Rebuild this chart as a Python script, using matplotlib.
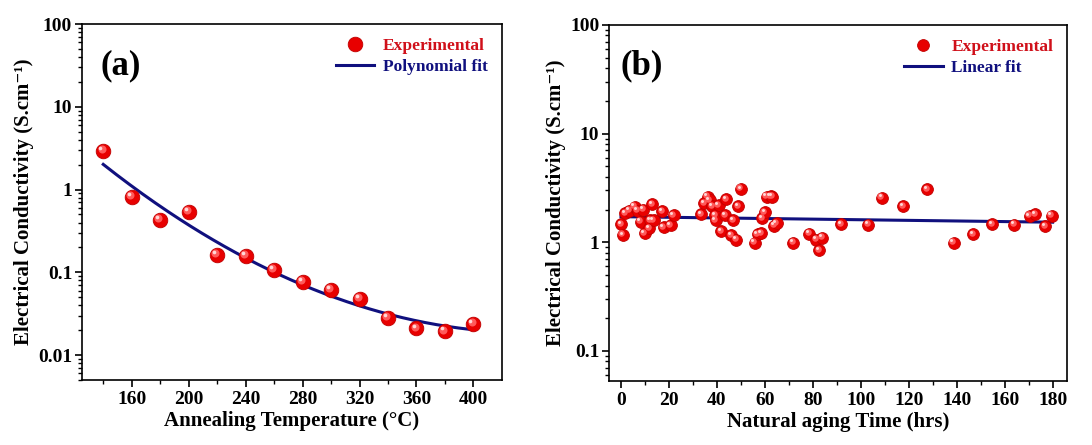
import numpy as np
import matplotlib
matplotlib.use("Agg")
import matplotlib.pyplot as plt
from matplotlib.transforms import ScaledTranslation
from matplotlib.ticker import MultipleLocator, LogLocator, NullFormatter, FixedLocator

plt.rcParams['font.family'] = ['Liberation Serif', 'DejaVu Serif']
plt.rcParams['font.weight'] = 'bold'

# panel (a): conductivity vs annealing temperature
temp = [140, 160, 180, 200, 220, 240, 260, 280, 300, 320, 340, 360, 380, 400]
cond_a = [2.96, 0.81, 0.43, 0.54, 0.164, 0.159, 0.108, 0.076, 0.062, 0.048,
          0.028, 0.021, 0.0194, 0.0237]

# panel (b): conductivity vs natural aging time
aging = [0, 0.8, 1.8, 3.5, 5.7, 7.0, 8.2, 9.2, 9.9, 11.7, 12.3, 13.1, 13.6,
         17.1, 17.8, 20.7, 22.0,
         33.4, 34.7, 36.1, 37.0, 38.1, 39.2, 39.5, 40.8, 41.9, 43.5, 43.9,
         45.9, 46.9, 48.0, 48.9, 50.0,
         55.7, 57.0, 58.4, 59.0, 60.0, 60.8, 62.4, 63.1, 63.8, 64.9,
         71.9, 78.6, 81.4, 82.7, 83.8, 91.9, 103.0, 108.8, 117.8, 127.7,
         138.8, 146.9, 154.7, 164.1, 170.5, 172.8, 176.9, 179.6]
cond_b = [1.47, 1.17, 1.85, 1.95, 2.12, 1.95, 1.55, 2.0, 1.21, 1.34, 1.6, 2.25, 1.60,
          1.94, 1.37, 1.44, 1.78,
          1.82, 2.3, 2.62, 2.45, 2.15, 1.78, 1.6, 2.18, 1.27, 1.78, 2.48,
          1.16, 1.6, 1.06, 2.15, 3.1,
          0.99, 1.18, 1.21, 1.66, 1.88, 2.62, 2.64, 2.62, 1.42, 1.5,
          0.99, 1.2, 1.06, 0.85, 1.1, 1.47, 1.45, 2.57, 2.15, 3.09,
          0.99, 1.19, 1.47, 1.45, 1.75, 1.82, 1.4, 1.76]
# linear fit line
fit_b_t = [0, 180]
fit_b_v = [1.72, 1.53]

red = '#e80000'
navy = '#10107e'

fig = plt.figure(figsize=(10.92, 4.45), dpi=100)
ax1 = fig.add_axes([0.075, 0.146, 0.3846, 0.80])
ax2 = fig.add_axes([0.5577, 0.144, 0.4194, 0.80])


def balls(ax, x, y, ms, label):
    h, = ax.plot(x, y, 'o', color=red, ms=ms, mec='#c00000', mew=0.6,
                 label=label, zorder=3, ls='none')
    off1 = ax.transData + ScaledTranslation(-ms * 0.12 / 72, ms * 0.12 / 72, fig.dpi_scale_trans)
    off2 = ax.transData + ScaledTranslation(-ms * 0.2 / 72, ms * 0.2 / 72, fig.dpi_scale_trans)
    ax.plot(x, y, 'o', color='#ff5a5a', ms=ms * 0.55, mew=0, transform=off1, zorder=4, ls='none')
    ax.plot(x, y, 'o', color='#ffd8d8', ms=ms * 0.25, mew=0, transform=off2, zorder=5, ls='none')
    return h


ylab = 'Electrical Conductivity (S.cm\u207b\u00b9)'

# panel a
coef = np.polyfit(temp, np.log10(cond_a), 2)
xs = np.linspace(temp[0], temp[-1], 200)
ax1.plot(xs, 10 ** np.polyval(coef, xs), color=navy, lw=2.2, label='Polynomial fit', zorder=2)
balls(ax1, temp, cond_a, 10.5, 'Experimental')
ax1.set_yscale('log')
ax1.set_xlim(125, 420)
ax1.set_ylim(0.005, 100)
ax1.set_xticks([160, 200, 240, 280, 320, 360, 400])
ax1.xaxis.set_minor_locator(FixedLocator([140, 180, 220, 260, 300, 340, 380]))
ax1.set_yticks([0.01, 0.1, 1, 10, 100])
ax1.set_yticklabels(['0.01', '0.1', '1', '10', '100'])
ax1.set_xlabel('Annealing Temperature (°C)', fontsize=15, fontweight='bold', labelpad=2)
ax1.set_ylabel(ylab, fontsize=15, fontweight='bold', labelpad=3)
ax1.text(0.045, 0.86, '(a)', transform=ax1.transAxes, fontsize=25, fontweight='bold')

# panel b
ax2.plot(fit_b_t, fit_b_v, color=navy, lw=2.2, label='Linear fit', zorder=2)
balls(ax2, aging, cond_b, 8.5, 'Experimental')
ax2.set_yscale('log')
ax2.set_xlim(-5, 186)
ax2.set_ylim(0.053, 100)
ax2.xaxis.set_major_locator(MultipleLocator(20))
ax2.xaxis.set_minor_locator(MultipleLocator(10))
ax2.set_yticks([0.1, 1, 10, 100])
ax2.set_yticklabels(['0.1', '1', '10', '100'])
ax2.set_xlabel('Natural aging Time (hrs)', fontsize=15, fontweight='bold', labelpad=2)
ax2.set_ylabel(ylab, fontsize=15, fontweight='bold', labelpad=3)
ax2.text(0.025, 0.86, '(b)', transform=ax2.transAxes, fontsize=25, fontweight='bold')

for ax in (ax1, ax2):
    ax.yaxis.set_minor_locator(LogLocator(base=10, subs=np.arange(2, 10), numticks=20))
    ax.yaxis.set_minor_formatter(NullFormatter())
    ax.tick_params(which='major', direction='out', length=5, width=1.2, labelsize=14,
                   top=False, right=False, pad=3)
    ax.tick_params(which='minor', direction='out', length=3, width=1.0, top=False, right=False)
    ax.tick_params(axis='y', pad=2)
    for lab in ax.get_xticklabels() + ax.get_yticklabels():
        lab.set_fontweight('bold')
    for s in ax.spines.values():
        s.set_linewidth(1.2)
    handles, labels = ax.get_legend_handles_labels()
    leg = ax.legend(handles[::-1], labels[::-1], loc='upper right', frameon=False,
                    handlelength=2.2, handletextpad=0.5,
                    borderaxespad=0.4, labelspacing=0.3, prop={'weight': 'bold', 'size': 12.5})
    leg.get_texts()[0].set_color('#d0101a')
    leg.get_texts()[1].set_color(navy)

fig.savefig('out.png', dpi=100)
